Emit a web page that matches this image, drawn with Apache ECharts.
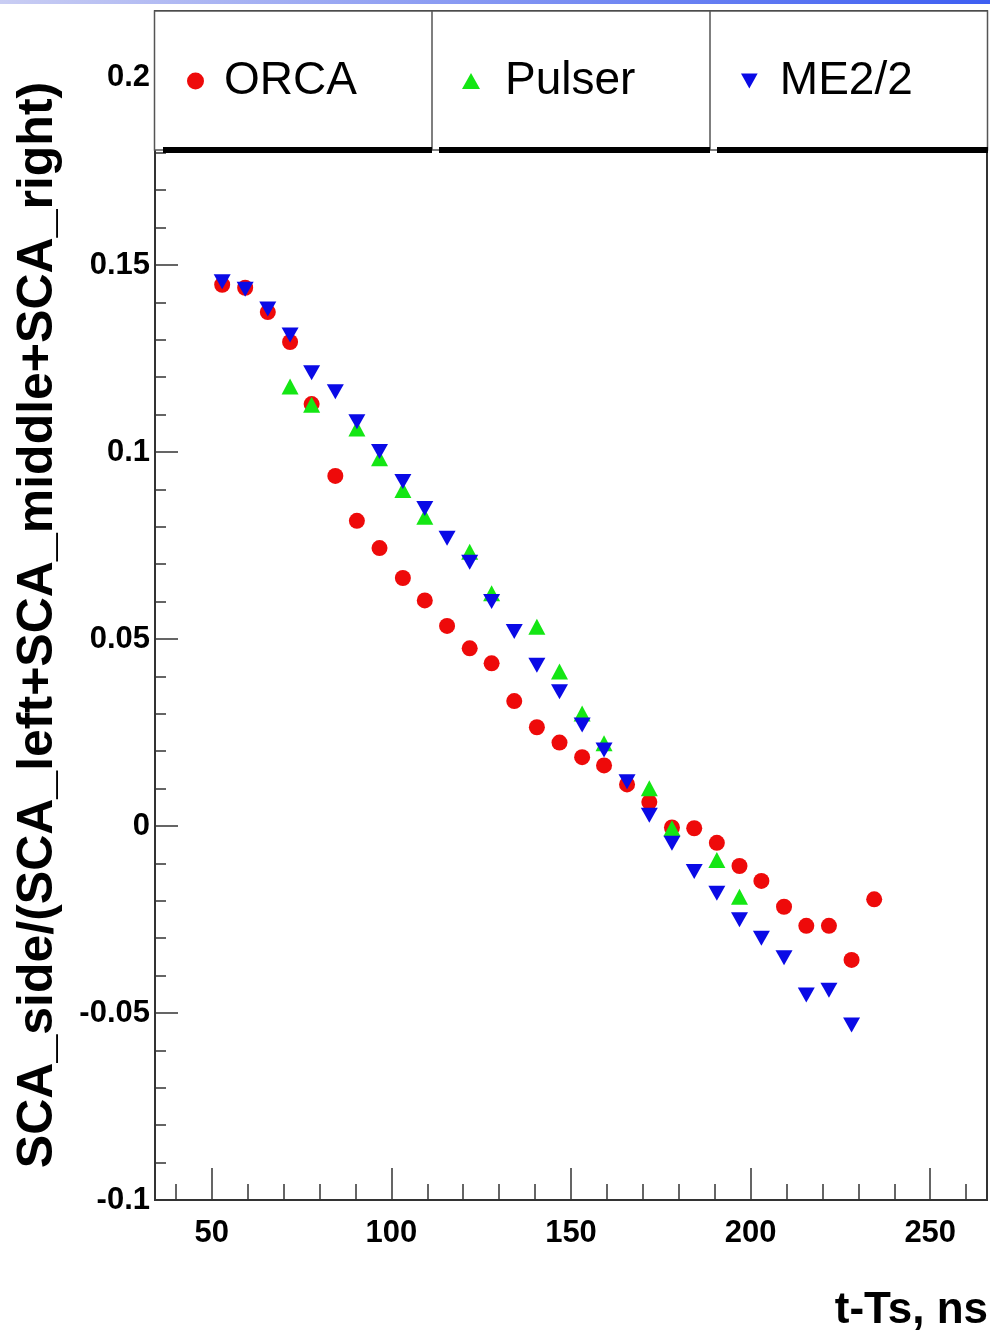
<!DOCTYPE html>
<html>
<head>
<meta charset="utf-8">
<script src="https://cdn.jsdelivr.net/npm/echarts@6/dist/echarts.min.js"></script>
<style>
html,body{margin:0;padding:0;background:#fff;}
#chart{width:990px;height:1334px;}
</style>
</head>
<body>
<div id="chart"></div>
<script>
// ---- data ----
const xValues = [52.9, 59.3, 65.6, 71.8, 77.8, 84.4, 90.4, 96.7, 103.2, 109.3, 115.5, 121.8, 127.9, 134.2, 140.5, 146.8, 153.1, 159.2, 165.6, 171.8, 178.1, 184.3, 190.6, 196.9, 203.0, 209.3, 215.5, 221.8, 228.1, 234.4];
const orcaValues = [0.1447, 0.1439, 0.1374, 0.1294, 0.1128, 0.0936, 0.0816, 0.0743, 0.0663, 0.0603, 0.0535, 0.0475, 0.0435, 0.0334, 0.0264, 0.0223, 0.0184, 0.0162, 0.0111, 0.0064, -0.0004, -0.0006, -0.0045, -0.0107, -0.0147, -0.0216, -0.0267, -0.0267, -0.0358, -0.0196];
const pulserValues = [null, null, null, 0.1175, 0.1126, null, 0.1063, 0.0983, 0.0898, 0.0827, null, 0.0733, 0.0622, null, 0.0533, 0.0413, 0.0301, 0.0221, null, 0.0101, -0.0006, null, -0.0091, -0.0189, null, null, null, null, null, null];
const me22Values = [0.1455, 0.1435, 0.1382, 0.1313, 0.1212, 0.1161, 0.1081, 0.1001, 0.0921, 0.0849, 0.0769, 0.0705, 0.0600, 0.0520, 0.0430, 0.0359, 0.0270, 0.0203, 0.0118, 0.0029, -0.0046, -0.0122, -0.0180, -0.0251, -0.0300, -0.0352, -0.0452, -0.0439, -0.0532, null];
const seriesNames = ['ORCA', 'Pulser', 'ME2/2'];
const xMajorTicks = [50, 100, 150, 200, 250];
const xMinorTicks = [40, 60, 70, 80, 90, 110, 120, 130, 140, 160, 170, 180, 190, 210, 220, 230, 240, 260];
const yMajorTicks = [-0.1, -0.05, 0, 0.05, 0.1, 0.15, 0.2];
const yMinorTicks = [-0.09, -0.08, -0.07, -0.06, -0.04, -0.03, -0.02, -0.01, 0.01, 0.02, 0.03, 0.04, 0.06, 0.07, 0.08, 0.09, 0.11, 0.12, 0.13, 0.14, 0.16, 0.17, 0.18, 0.19, 0.21];
const xTitle = 't-Ts, ns';
const yTitle = 'SCA_side/(SCA_left+SCA_middle+SCA_right)';

const X_MIN = 34.2, X_MAX = 265.8, Y_MIN = -0.1, Y_MAX = 0.2179;

function pairs(vals) {
  return xValues.map((x, i) => [x, vals[i]]).filter(p => p[1] !== null);
}

const FONT = '"Liberation Sans", Arial, Helvetica, sans-serif';
const DOWN_TRI = 'path://M0,0L10,0L5,9Z';
const AX = '#333';

const chart = echarts.init(document.getElementById('chart'), null, {renderer: 'canvas'});

const axisCommonX = {
  type: 'value', min: X_MIN, max: X_MAX, position: 'bottom',
  splitLine: {show: false}
};
const axisCommonY = {
  type: 'value', min: Y_MIN, max: Y_MAX, position: 'left',
  splitLine: {show: false}
};

const option = {
  backgroundColor: '#fff',
  animation: false,
  grid: {left: 155, right: 3, top: 11, bottom: 134, show: true, borderColor: AX, borderWidth: 2, backgroundColor: 'transparent'},
  xAxis: [
    Object.assign({}, axisCommonX, {
      axisLine: {show: true, onZero: false, lineStyle: {color: AX, width: 2}},
      axisTick: {show: true, inside: true, length: 32, customValues: xMajorTicks, lineStyle: {color: AX, width: 1.5}},
      axisLabel: {show: true, customValues: xMajorTicks, margin: 18, color: '#000', fontSize: 31, fontWeight: 'bold', fontFamily: FONT}
    }),
    Object.assign({}, axisCommonX, {
      axisLine: {show: false, onZero: false},
      axisTick: {show: true, inside: true, length: 16, customValues: xMinorTicks, lineStyle: {color: AX, width: 1.5}},
      axisLabel: {show: false}
    })
  ],
  yAxis: [
    Object.assign({}, axisCommonY, {
      axisLine: {show: true, onZero: false, lineStyle: {color: AX, width: 2}},
      axisTick: {show: true, inside: true, length: 23, customValues: yMajorTicks, lineStyle: {color: AX, width: 1.5}},
      axisLabel: {show: true, customValues: yMajorTicks, margin: 5, color: '#000', fontSize: 31, fontWeight: 'bold', fontFamily: FONT}
    }),
    Object.assign({}, axisCommonY, {
      axisLine: {show: false, onZero: false},
      axisTick: {show: true, inside: true, length: 11, customValues: yMinorTicks, lineStyle: {color: AX, width: 1.5}},
      axisLabel: {show: false}
    })
  ],
  legend: [
    {data: [seriesNames[0]], left: 182, top: 53, z: 200, icon: 'circle', itemWidth: 17, itemHeight: 17,
     textStyle: {fontSize: 46, fontFamily: FONT, color: '#000', padding: [0, 0, 0, 15]}},
    {data: [seriesNames[1]], left: 457, top: 53, z: 200, icon: 'triangle', itemWidth: 18, itemHeight: 16,
     textStyle: {fontSize: 46, fontFamily: FONT, color: '#000', padding: [0, 0, 0, 20]}},
    {data: [seriesNames[2]], left: 736, top: 53, z: 200, icon: DOWN_TRI, itemWidth: 17, itemHeight: 15,
     textStyle: {fontSize: 46, fontFamily: FONT, color: '#000', padding: [0, 0, 0, 17]}}
  ],
  graphic: [
    {type: 'rect', z: 50, silent: true, shape: {x: 0, y: 0, width: 990, height: 4},
     style: {fill: new echarts.graphic.LinearGradient(0, 0, 1, 0, [{offset: 0, color: '#c9cdf3'}, {offset: 1, color: '#3d5ef2'}])}},
    {type: 'rect', z: 100, silent: true, shape: {x: 154.5, y: 11, width: 833, height: 139},
     style: {fill: '#fff', stroke: '#555', lineWidth: 1.5}},
    {type: 'line', z: 101, silent: true, shape: {x1: 432, y1: 11, x2: 432, y2: 150}, style: {stroke: '#555', lineWidth: 1.5}},
    {type: 'line', z: 101, silent: true, shape: {x1: 710, y1: 11, x2: 710, y2: 150}, style: {stroke: '#555', lineWidth: 1.5}},
    {type: 'rect', z: 102, silent: true, shape: {x: 163, y: 147, width: 269, height: 6}, style: {fill: '#000'}},
    {type: 'rect', z: 102, silent: true, shape: {x: 439, y: 147, width: 271, height: 6}, style: {fill: '#000'}},
    {type: 'rect', z: 102, silent: true, shape: {x: 717, y: 147, width: 271, height: 6}, style: {fill: '#000'}},
    {type: 'text', z: 110, silent: true, x: 38, y: 625, rotation: Math.PI / 2,
     style: {text: yTitle, fontSize: 50, fontWeight: 'bold', fontFamily: FONT, fill: '#000', align: 'center', verticalAlign: 'middle'}},
    {type: 'text', z: 110, silent: true, x: 988, y: 1311,
     style: {text: xTitle, fontSize: 44, fontWeight: 'bold', fontFamily: FONT, fill: '#000', align: 'right', verticalAlign: 'middle'}}
  ],
  series: [
    {name: seriesNames[0], type: 'scatter', xAxisIndex: 0, yAxisIndex: 0, symbol: 'circle', symbolSize: 16,
     itemStyle: {color: '#ee0a0a', opacity: 1}, data: pairs(orcaValues), z: 2},
    {name: seriesNames[1], type: 'scatter', xAxisIndex: 0, yAxisIndex: 0, symbol: 'triangle', symbolSize: [17, 16],
     itemStyle: {color: '#14e614', opacity: 1}, data: pairs(pulserValues), z: 3},
    {name: seriesNames[2], type: 'scatter', xAxisIndex: 0, yAxisIndex: 0, symbol: DOWN_TRI, symbolSize: [17, 15],
     itemStyle: {color: '#0a0ae6', opacity: 1}, data: pairs(me22Values), z: 4}
  ]
};
chart.setOption(option);
</script>
</body>
</html>
